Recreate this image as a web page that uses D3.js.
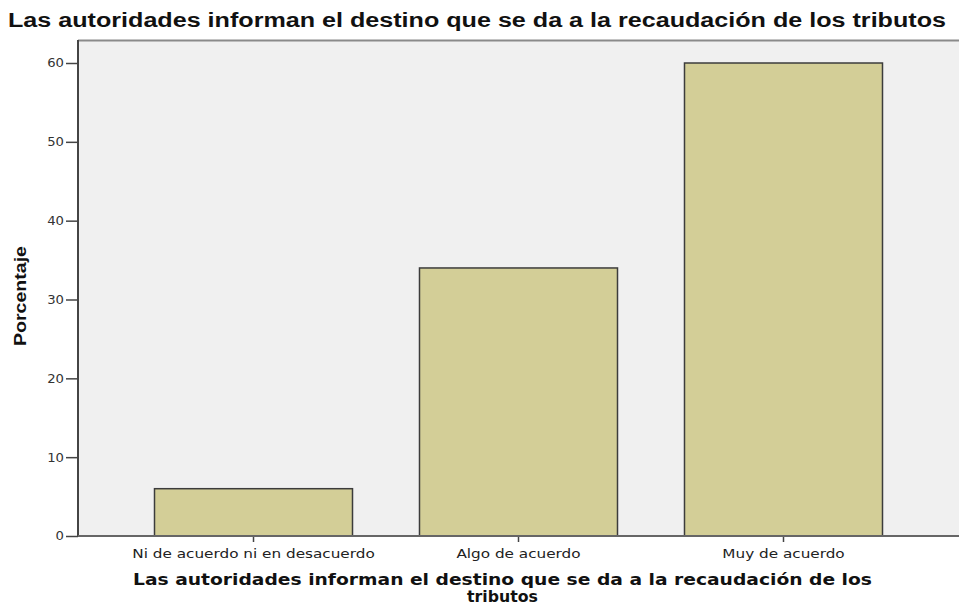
<!DOCTYPE html>
<html><head><meta charset="utf-8">
<script src="https://cdn.jsdelivr.net/npm/d3@7"></script>
<style>body{margin:0;background:#fff}svg{display:block}</style>
</head><body><svg id="c" width="959" height="610"></svg>
<script>
const categories = ["Ni de acuerdo ni en desacuerdo", "Algo de acuerdo", "Muy de acuerdo"];
const values = [6, 34, 60];
const yTicks = [0, 10, 20, 30, 40, 50, 60];
const title = "Las autoridades informan el destino que se da a la recaudación de los tributos";
const xTitleLines = ["Las autoridades informan el destino que se da a la recaudación de los", "tributos"];
const yTitle = "Porcentaje";

(function () {
const svg = d3.select("#c");
const pL = 78, pR = 959, pT = 40, pB = 536;
const x = d3.scaleBand().domain(categories).range([pL, pR]).paddingInner(0.2528).paddingOuter(0.2887);
const y = d3.scaleLinear().domain([0, 60]).range([pB, 63]);
const stretch = function (sel, k) {
  sel.each(function () { const w = this.getComputedTextLength(); d3.select(this).attr("textLength", w * k).attr("lengthAdjust", "spacingAndGlyphs"); });
};

svg.append("rect").attr("x", pL).attr("y", pT).attr("width", pR - pL).attr("height", pB - pT).attr("fill", "#f0f0f0");
svg.append("line").attr("x1", pL).attr("x2", pR).attr("y1", pT + 0.5).attr("y2", pT + 0.5).attr("stroke", "#8a8a8a").attr("stroke-width", 2);

svg.selectAll("rect.bar").data(values).join("rect").attr("class", "bar")
  .attr("x", (d, i) => x(categories[i])).attr("width", x.bandwidth())
  .attr("y", d => y(d)).attr("height", d => y(0) - y(d))
  .attr("fill", "#d3ce97").attr("stroke", "#3c3c3c").attr("stroke-width", 1.5);

const ya = svg.append("g").attr("transform", `translate(${pL},0)`)
  .call(d3.axisLeft(y).tickValues(yTicks).tickSize(12).tickPadding(2).tickFormat(d3.format("d")));
ya.select(".domain").remove();
ya.selectAll("line").attr("stroke", "#444").attr("stroke-width", 1.5);
ya.selectAll("text").attr("font-family", "DejaVu Sans").attr("font-size", 12).attr("fill", "#333").call(stretch, 1.1);
svg.append("line").attr("x1", pL).attr("x2", pL).attr("y1", pT).attr("y2", pB).attr("stroke", "#444").attr("stroke-width", 2);

const xa = svg.append("g").attr("transform", `translate(0,${pB})`)
  .call(d3.axisBottom(x).tickSize(6).tickPadding(7));
xa.select(".domain").remove();
xa.selectAll("line").attr("stroke", "#444").attr("stroke-width", 1.5);
xa.selectAll("text").attr("font-family", "DejaVu Sans").attr("font-size", 12.5).attr("fill", "#222").call(stretch, 1.22);
svg.append("line").attr("x1", pL).attr("x2", pR).attr("y1", pB).attr("y2", pB).attr("stroke", "#666").attr("stroke-width", 2);

svg.append("text").attr("x", 8).attr("y", 27).text(title)
  .attr("font-family", "Liberation Sans Narrow, Liberation Sans, Arial").attr("font-weight", "bold").attr("font-size", 20)
  .attr("textLength", 938).attr("lengthAdjust", "spacingAndGlyphs").attr("fill", "#111");

svg.append("text").attr("transform", `translate(26,${(pT + pB) / 2 + 8}) rotate(-90)`).attr("text-anchor", "middle")
  .text(yTitle).attr("font-family", "Liberation Sans Narrow, Liberation Sans, Arial").attr("font-weight", "bold").attr("font-size", 16)
  .attr("textLength", 100).attr("lengthAdjust", "spacingAndGlyphs").attr("fill", "#111");

svg.append("text").attr("x", 502.5).attr("y", 585).attr("text-anchor", "middle").text(xTitleLines[0])
  .attr("font-family", "DejaVu Sans").attr("font-weight", "bold").attr("font-size", 15)
  .attr("textLength", 739).attr("lengthAdjust", "spacingAndGlyphs").attr("fill", "#111");
svg.append("text").attr("x", 502.5).attr("y", 602).attr("text-anchor", "middle").text(xTitleLines[1])
  .attr("font-family", "DejaVu Sans").attr("font-weight", "bold").attr("font-size", 15).attr("fill", "#111")
  .call(stretch, 1.05);
})();
</script></body></html>
